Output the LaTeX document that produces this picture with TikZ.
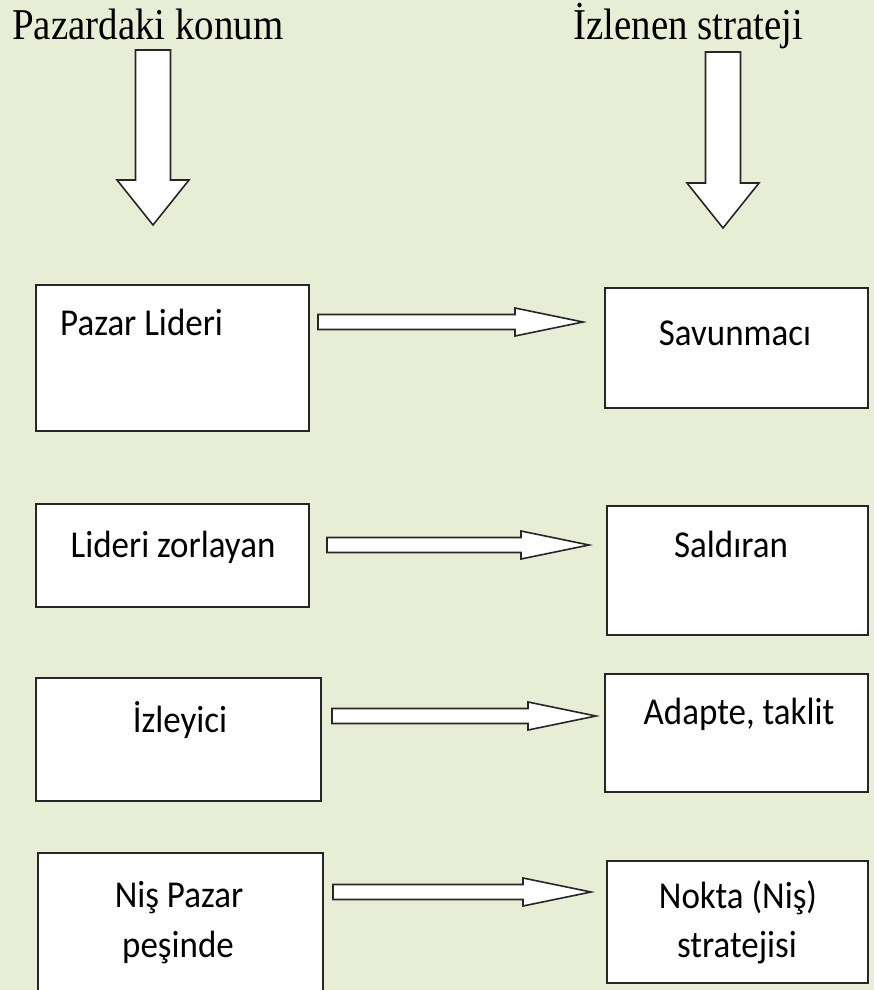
\documentclass[tikz,border=0pt]{standalone}
\usepackage{fontspec}
\setmainfont{Liberation Serif}
\newfontfamily\bodyfont{Carlito}
\definecolor{bg}{RGB}{231,238,213}
\newcommand\harrowfat[3]{\draw[fat] (#1,#3-7.5) -- (#2-68,#3-7.5) -- (#2-68,#3-14) -- (#2,#3) -- (#2-68,#3+14) -- (#2-68,#3+7.5) -- (#1,#3+7.5) -- cycle;}
\newcommand\varrowfat[4]{\draw[fat] (#1-17.5,#2) -- (#1+17.5,#2) -- (#1+17.5,#3) -- (#1+36,#3) -- (#1,#4) -- (#1-36,#3) -- (#1-17.5,#3) -- cycle;}
\begin{document}
\begin{tikzpicture}[x=1pt,y=-1pt,
 box/.style={draw=black!85,line width=1.6pt,fill=white,anchor=north west,inner sep=0pt},
 lbl/.style={font=\bodyfont\fontsize{38}{46}\selectfont,anchor=base,inner sep=0pt},
 ttl/.style={font=\fontsize{44}{50}\selectfont,anchor=base west,inner sep=0pt},
 fat/.style={draw=black!85,line width=1.6pt,fill=white,line join=miter}]
\fill[bg] (0,0) rectangle (874,990);
\useasboundingbox (0,0) rectangle (874,990);
% titles
\node[ttl] (t1) at (12,40) {\scalebox{0.885}[1]{Pazardaki konum}};
\node[ttl] (t2) at (573,40) {\scalebox{0.885}[1]{İzlenen strateji}};
% vertical arrows
\varrowfat{153}{50}{180}{225}
\varrowfat{723}{52}{183}{228}
% boxes
\node[box,minimum width=273pt,minimum height=146pt] (L1) at (35,284) {};
\node[box,minimum width=263pt,minimum height=120pt] (R1) at (604,287) {};
\node[box,minimum width=273pt,minimum height=103pt] (L2) at (35,503) {};
\node[box,minimum width=261pt,minimum height=129pt] (R2) at (606,505) {};
\node[box,minimum width=285pt,minimum height=123pt] (L3) at (35,677) {};
\node[box,minimum width=263pt,minimum height=118pt] (R3) at (604,673) {};
\node[box,minimum width=285pt,minimum height=140pt] (L4) at (37,852) {};
\node[box,minimum width=261pt,minimum height=122pt] (R4) at (606,860) {};
% labels
\node[lbl,anchor=base west] (a1) at (60,335) {\scalebox{0.92}[1]{Pazar Lideri}};
\node[lbl] (b1) at (735,345) {\scalebox{0.92}[1]{Savunmacı}};
\node[lbl] (a2) at (173,557) {\scalebox{0.92}[1]{Lideri zorlayan}};
\node[lbl] (b2) at (731,557) {\scalebox{0.92}[1]{Saldıran}};
\node[lbl] (a3) at (180,732) {\scalebox{0.92}[1]{İzleyici}};
\node[lbl] (b3) at (739,724) {\scalebox{0.92}[1]{Adapte, taklit}};
\node[lbl] (a4) at (179,907) {\scalebox{0.92}[1]{Niş Pazar}};
\node[lbl] (a4b) at (178,957) {\scalebox{0.92}[1]{peşinde}};
\node[lbl] (b4) at (738,908) {\scalebox{0.92}[1]{Nokta (Niş)}};
\node[lbl] (b4b) at (737,957) {\scalebox{0.92}[1]{stratejisi}};
% horizontal arrows
\harrowfat{318}{583}{322}
\harrowfat{327}{589}{545}
\harrowfat{332}{596}{716}
\harrowfat{333}{591}{892}
\end{tikzpicture}
\end{document}
